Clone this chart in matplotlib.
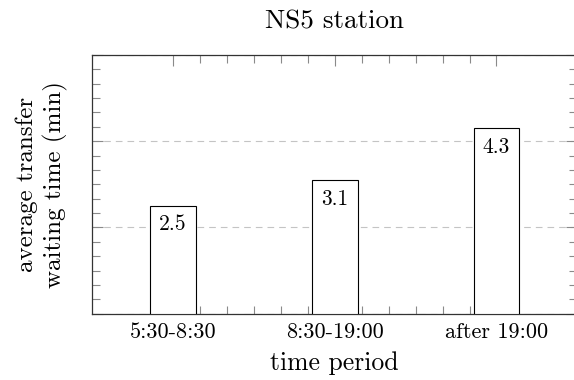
import matplotlib
matplotlib.use("Agg")
import matplotlib.pyplot as plt
import numpy as np
from matplotlib.ticker import FixedLocator, NullFormatter

# data
periods = ["5:30-8:30", "8:30-19:00", "after 19:00"]
wait_min = [2.5, 3.1, 4.3]
value_labels = ["2.5", "3.1", "4.3"]
y_major = [0, 2, 4, 6]

plt.rcParams["font.family"] = ["cmr10", "DejaVu Serif"]
plt.rcParams["axes.formatter.use_mathtext"] = True

fig = plt.figure(figsize=(5.74, 3.80), dpi=100)
ax = fig.add_axes([92 / 574, 66.3 / 380, 485.4 / 574, 258.7 / 380])
ax.set_axisbelow(True)

x = np.arange(len(periods))
bars = ax.bar(x, wait_min, width=0.282, color="white", edgecolor="black",
              linewidth=0.8, zorder=3)
for b, lab in zip(bars, value_labels):
    ax.annotate(lab, (b.get_x() + b.get_width() / 2, b.get_height()),
                xytext=(0, -6.5), textcoords="offset points",
                ha="center", va="top", fontsize=15.5, zorder=4)

ax.set_xlim(-0.5, 2.5)
ax.set_ylim(0, 6)
ax.set_xticks(x)
ax.set_xticklabels(periods, fontsize=16)
ax.xaxis.set_minor_locator(FixedLocator([k / 6 for k in range(13) if k % 6]))
ax.set_yticks(y_major)
ax.yaxis.set_major_formatter(NullFormatter())
ax.yaxis.set_minor_locator(FixedLocator([k / 3 for k in range(19) if k % 6]))

ax.tick_params(which="both", direction="in", top=True, right=True, color="#8a8a8a")
ax.tick_params(which="major", length=8, width=0.8)
ax.tick_params(which="minor", length=6, width=0.8)
ax.tick_params(axis="x", which="major", pad=6)

ax.grid(axis="y", which="major", color="#c4c4c4", linestyle=(0, (6, 4.5)), linewidth=0.8)
for s in ax.spines.values():
    s.set_color("#333333")
    s.set_linewidth(0.9)

ax.set_title("NS5 station", fontsize=19.5, pad=19)
ax.set_xlabel("time period", fontsize=18.5, labelpad=7)
ax.set_ylabel("average transfer\nwaiting time (min)", fontsize=18, labelpad=14,
              linespacing=1.25)

fig.savefig("out.png", dpi=100)
